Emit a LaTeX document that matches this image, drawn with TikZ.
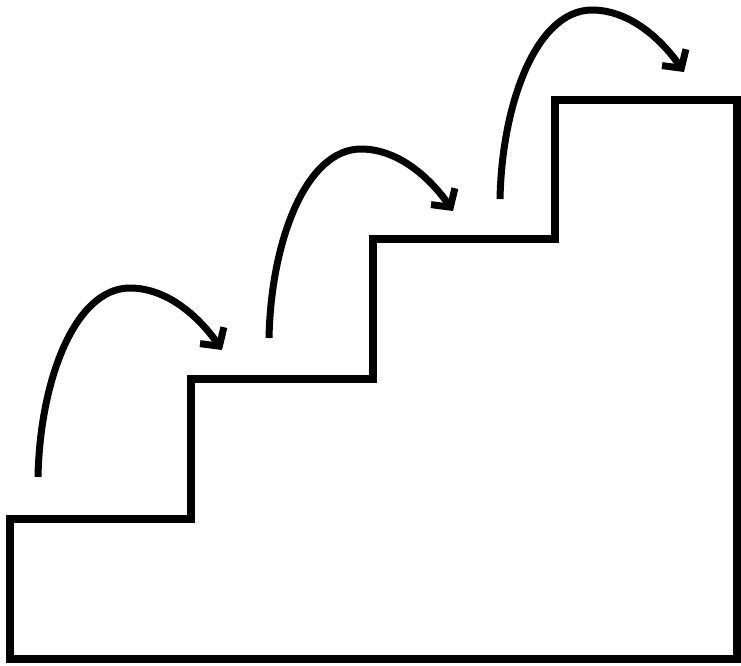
\documentclass[tikz,border=0pt]{standalone}
\usetikzlibrary{arrows.meta}
\begin{document}
\begin{tikzpicture}[x=1pt,y=-1pt,
  stairline/.style={line width=8pt,line join=miter,black},
  hop/.style={line width=7pt,black,line cap=butt,
    -{Straight Barb[length=13pt,width=29pt,line width=7pt]}}]
\useasboundingbox (0,0) rectangle (741,665);
% staircase outline
\draw[stairline] (10,519) -- (190.5,519) -- (190.5,379) -- (372.5,379) -- (372.5,239)
  -- (555,239) -- (555,100) -- (737,100) -- (737,659) -- (10,659) -- cycle;
% hop arrows
\foreach \k in {0,1,2}{
  \begin{scope}[shift={(231*\k,-139*\k)}]
    \coordinate (s\k) at (38,477);
    \coordinate (p\k) at (130,288);
    \coordinate (t\k) at (222,350);
    \draw[hop] (s\k) .. controls (40,380) and (75,288) .. (p\k)
      .. controls (168,288) and (200,318) .. (t\k);
  \end{scope}
}
\end{tikzpicture}
\end{document}
